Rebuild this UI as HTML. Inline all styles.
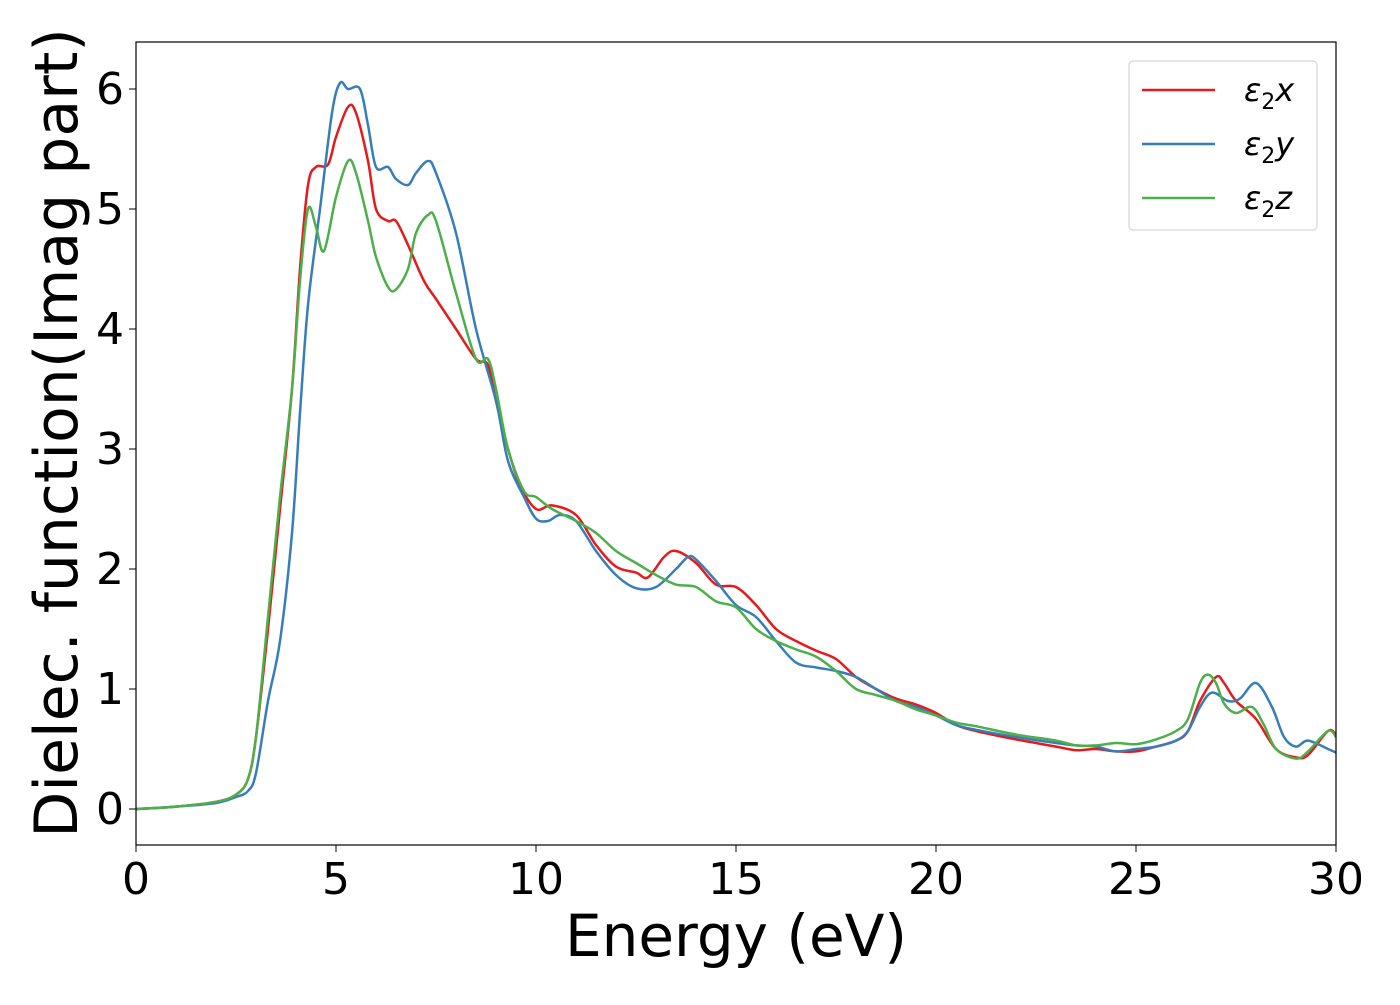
<!DOCTYPE html>
<html><head><meta charset="utf-8"><style>
body{margin:0;background:#fff;}
svg text{font-family:"DejaVu Sans","Liberation Sans",sans-serif;}
</style></head><body>
<svg id="chart" width="1400" height="1000" xmlns="http://www.w3.org/2000/svg">
<g id="axes"></g>
<g id="series"></g>
<rect x="136" y="42" width="1200" height="803" fill="none" stroke="#000" stroke-width="1.2"/>
<g>
<rect x="1129" y="61" width="188" height="169" rx="4" fill="#fff" stroke="#ccc"/>
<line x1="1142" x2="1215" y1="90" y2="90" stroke="#e41a1c" stroke-width="2.5"/>
<text x="1244" y="101" font-size="32" font-style="italic">ε<tspan font-size="22" dy="8" font-style="normal">2</tspan><tspan dy="-8">x</tspan></text>
<line x1="1142" x2="1215" y1="144" y2="144" stroke="#377eb8" stroke-width="2.5"/>
<text x="1244" y="155" font-size="32" font-style="italic">ε<tspan font-size="22" dy="8" font-style="normal">2</tspan><tspan dy="-8">y</tspan></text>
<line x1="1142" x2="1215" y1="198" y2="198" stroke="#4daf4a" stroke-width="2.5"/>
<text x="1244" y="209" font-size="32" font-style="italic">ε<tspan font-size="22" dy="8" font-style="normal">2</tspan><tspan dy="-8">z</tspan></text>
</g>
<text x="736" y="956" font-size="58" text-anchor="middle">Energy (eV)</text>
<text transform="translate(77,433) rotate(-90)" font-size="60" text-anchor="middle">Dielec. function(Imag part)</text>
</svg>
<script>
const xTicks=[0,5,10,15,20,25,30];
const yTicks=[0,1,2,3,4,5,6];
const redX=[0,1,2,2.5,2.8,3.0,3.3,3.6,3.9,4.1,4.3,4.5,4.8,5.0,5.3,5.5,5.8,6.0,6.3,6.5,6.8,7.2,7.5,8.0,8.5,8.8,9.0,9.3,9.6,10.0,10.4,11.0,11.5,12.0,12.5,12.8,13.2,13.5,14.0,14.5,15.0,15.5,16.0,16.5,17.0,17.5,18.0,18.5,19,19.5,20,20.5,21,22,23,23.5,24,24.5,25,25.5,26,26.3,26.6,27.0,27.2,27.5,28,28.5,29.0,29.3,29.8,30];
const redY=[0,0.02,0.06,0.12,0.25,0.6,1.5,2.5,3.5,4.5,5.2,5.35,5.37,5.6,5.85,5.8,5.4,5.0,4.9,4.9,4.7,4.4,4.25,4.0,3.75,3.7,3.4,3.0,2.7,2.5,2.53,2.45,2.2,2.02,1.97,1.93,2.1,2.15,2.05,1.87,1.85,1.7,1.5,1.4,1.32,1.25,1.1,1.0,0.92,0.87,0.8,0.7,0.65,0.58,0.52,0.49,0.5,0.48,0.48,0.52,0.57,0.65,0.9,1.1,1.05,0.9,0.75,0.5,0.43,0.45,0.65,0.62];
const blueX=[0,1,2,2.5,2.8,3.0,3.3,3.6,3.9,4.1,4.3,4.6,4.9,5.1,5.3,5.6,5.8,6.0,6.3,6.5,6.8,7.0,7.3,7.5,8.0,8.5,9.0,9.3,9.7,10.0,10.3,10.6,11.0,11.5,12.0,12.5,13.0,13.5,13.8,14.0,14.5,15.0,15.5,16.0,16.5,17.0,17.5,18.0,18.5,19,19.5,20,20.5,21,22,23,23.5,24,24.5,25,25.5,26,26.3,26.6,26.9,27.3,27.6,28.0,28.4,28.7,29.0,29.3,29.8,30];
const blueY=[0,0.02,0.05,0.1,0.15,0.3,0.9,1.4,2.3,3.3,4.2,5.0,5.8,6.05,6.0,6.0,5.7,5.35,5.35,5.25,5.2,5.3,5.4,5.3,4.8,4.0,3.4,2.9,2.6,2.42,2.4,2.45,2.4,2.15,1.95,1.84,1.85,2.0,2.1,2.08,1.9,1.7,1.6,1.4,1.22,1.18,1.15,1.1,1.0,0.9,0.85,0.78,0.7,0.66,0.6,0.55,0.53,0.52,0.48,0.5,0.52,0.57,0.65,0.85,0.97,0.9,0.92,1.05,0.85,0.6,0.52,0.57,0.5,0.47];
const greenX=[0,1,2,2.5,2.8,3.0,3.3,3.6,3.9,4.1,4.3,4.5,4.7,5.0,5.3,5.5,5.8,6.0,6.3,6.5,6.8,7.0,7.3,7.5,8.0,8.5,8.8,9.0,9.3,9.7,10.0,10.4,11.0,11.5,12.0,12.5,13.0,13.5,14.0,14.5,15.0,15.5,16.0,16.5,17.0,17.5,18.0,18.5,19,19.5,20,20.5,21,22,23,23.5,24,24.5,25,25.5,26,26.3,26.6,26.8,27.0,27.2,27.5,27.9,28.2,28.5,29.0,29.3,29.8,30];
const greenY=[0,0.02,0.06,0.12,0.25,0.6,1.6,2.6,3.5,4.4,5.0,4.85,4.65,5.1,5.4,5.3,4.9,4.6,4.35,4.33,4.5,4.8,4.95,4.9,4.3,3.75,3.75,3.5,3.0,2.65,2.6,2.5,2.4,2.3,2.15,2.05,1.95,1.87,1.85,1.73,1.68,1.5,1.4,1.33,1.27,1.15,1.0,0.95,0.9,0.83,0.78,0.72,0.69,0.62,0.57,0.53,0.53,0.55,0.54,0.58,0.65,0.75,1.05,1.12,1.05,0.88,0.8,0.85,0.7,0.5,0.42,0.48,0.65,0.6];
const NS="http://www.w3.org/2000/svg";
const sx=v=>136+v*40, sy=v=>809-v*120;
const axes=document.getElementById('axes');
xTicks.forEach(t=>{
  const l=document.createElementNS(NS,'line');
  
  
  l.setAttribute('x1',sx(t));l.setAttribute('x2',sx(t));l.setAttribute('y1',845);l.setAttribute('y2',852);l.setAttribute('stroke','#000');
  axes.appendChild(l);
  const tx=document.createElementNS(NS,'text');
  
  
  tx.setAttribute('x',sx(t));tx.setAttribute('y',894);tx.setAttribute('font-size','44');tx.setAttribute('text-anchor','middle');
  tx.textContent=t;axes.appendChild(tx);
});
yTicks.forEach(t=>{
  const l=document.createElementNS(NS,'line');
  
  
  l.setAttribute('x1',129);l.setAttribute('x2',136);l.setAttribute('y1',sy(t));l.setAttribute('y2',sy(t));l.setAttribute('stroke','#000');
  axes.appendChild(l);
  const tx=document.createElementNS(NS,'text');
  
  
  tx.setAttribute('x',124);tx.setAttribute('y',sy(t)+15);tx.setAttribute('font-size','44');tx.setAttribute('text-anchor','end');
  tx.textContent=t;axes.appendChild(tx);
});
function pathFor(xs,ys){
  const p=xs.map((x,i)=>[sx(x),sy(ys[i])]);
  let d='M'+p[0][0]+','+p[0][1];
  for(let i=0;i<p.length-1;i++){
    const p0=p[Math.max(0,i-1)],p1=p[i],p2=p[i+1],p3=p[Math.min(p.length-1,i+2)];
    const c1=[p1[0]+(p2[0]-p0[0])/6,p1[1]+(p2[1]-p0[1])/6];
    const c2=[p2[0]-(p3[0]-p1[0])/6,p2[1]-(p3[1]-p1[1])/6];
    d+=' C'+c1+' '+c2+' '+p2;
  }
  return d;
}
const g=document.getElementById('series');
[[redX,redY,'#e41a1c','series-eps2-x'],[blueX,blueY,'#377eb8','series-eps2-y'],[greenX,greenY,'#4daf4a','series-eps2-z']].forEach(s=>{
  const path=document.createElementNS(NS,'path');
  
  
  path.setAttribute('d',pathFor(s[0],s[1]));
  path.setAttribute('fill','none');path.setAttribute('stroke',s[2]);path.setAttribute('stroke-width','2.5');
  g.appendChild(path);
});
</script>
</body></html>
